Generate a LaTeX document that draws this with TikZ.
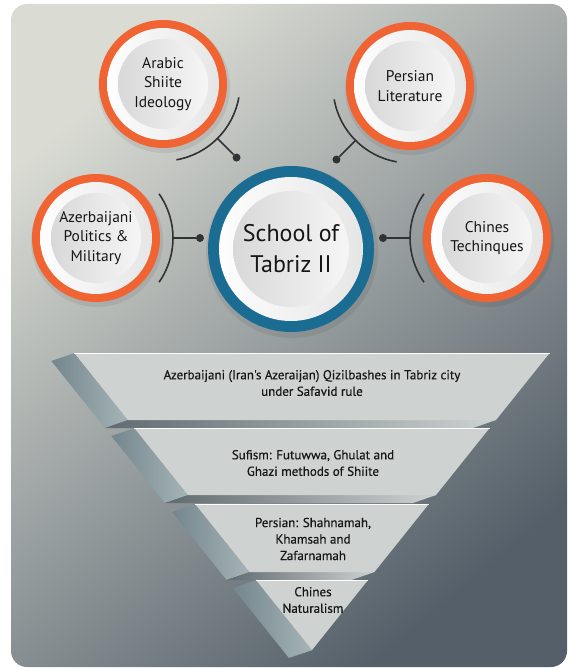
\documentclass[tikz,border=0pt]{standalone}
\usepackage{fontspec}
\setmainfont{PT Sans}
\newfontfamily\tierfont{PT Sans}[FakeBold=0.45]

\definecolor{ringorange}{RGB}{239,100,50}
\definecolor{hubblue}{RGB}{26,108,146}
\definecolor{pinline}{RGB}{48,50,52}
\definecolor{textdark}{RGB}{22,22,24}
\definecolor{bglight}{RGB}{218,220,212}
\definecolor{bgdark}{RGB}{84,95,105}
\definecolor{bandgrey}{RGB}{228,228,228}
\definecolor{discgrey}{RGB}{216,216,216}
\definecolor{discwhite}{RGB}{246,246,246}
\definecolor{facegrey}{RGB}{206,211,210}
\definecolor{facelight}{RGB}{232,234,232}
\definecolor{sidedark}{RGB}{116,134,142}
\definecolor{sidelight}{RGB}{166,180,183}
\definecolor{ledgedark}{RGB}{96,106,112}
\definecolor{ledgelight}{RGB}{205,210,210}

\tikzset{
    spoke/.style={circle, inner sep=0pt, minimum size=128pt, fill=ringorange,
        align=center, text=textdark, font=\fontsize{15.5}{19.5}\selectfont,
        path picture={
            \shade[left color=white, right color=bandgrey]
                (path picture bounding box.center) circle (56pt);
            \shade[left color=discgrey, right color=discwhite]
                (path picture bounding box.center) circle (45pt);
        }},
    hub/.style={circle, inner sep=0pt, minimum size=166pt, fill=hubblue,
        align=center, text=textdark, font=\fontsize{24}{31}\selectfont,
        path picture={
            \shade[left color=white, right color=bandgrey]
                (path picture bounding box.center) circle (72pt);
            \shade[left color=discgrey, right color=discwhite]
                (path picture bounding box.center) circle (58pt);
        }},
    halo/.style={fill=black, opacity=0.07},
    pin/.style={circle, fill=pinline, inner sep=0pt, minimum size=8pt},
    bracket/.style={draw=pinline, line width=1.6pt},
    tiertext/.style={align=center, text=textdark, font=\tierfont\fontsize{13}{16.5}\selectfont},
}

\begin{document}
\begin{tikzpicture}[x=1pt, y=-1pt]
    \useasboundingbox (0,0) rectangle (567,668);

    % Background panel
    \shade[rounded corners=16pt, top color=bglight, bottom color=bgdark, shading angle=40]
        (11,4) rectangle (567,667);

    % Soft shadows under the circles
    \foreach \x/\y/\r in {163/84/66, 410/86/66, 96/238/66, 487/238/66, 291/249/86} {
        \fill[halo] (\x+1,\y+3) circle (\r);
    }

    % Circles
    \node[spoke] (arabic) at (163,84) {Arabic\\Shiite\\Ideology};
    \node[spoke] (persian) at (410,86) {Persian\\Literature};
    \node[spoke] (azeri) at (96,238) {Azerbaijani\\Politics \&\\Military};
    \node[spoke] (chines) at (487,238) {Chines\\Techinques};
    \node[hub] (tabriz) at (291,249) {School of\\Tabriz II};

    % Brackets with pins
    \foreach \n/\a in {arabic/45, persian/135, azeri/0, chines/180} {
        \draw[bracket] ([shift={(\a-35:77)}]\n.center) arc[start angle=\a-35, end angle=\a+35, radius=77];
        \coordinate (\n-arc) at ([shift={(\a:77)}]\n.center);
        \node[pin] (\n-pin) at ([shift={(\a:104)}]\n.center) {};
        \draw[bracket] (\n-arc) -- (\n-pin);
    }

    % Inverted pyramid, one slab per tier
    \foreach \t/\b in {353/420, 428/495, 504/572, 580/650} {
        \shade[left color=sidedark, right color=sidelight]
            ({312-0.8*(650-\t)},\t) -- ({312-0.8*(650-\b)},\b) -- ++(-23,8)
            -- ({312-0.8*(650-\t)-23},\t+8) -- cycle;
        \shade[left color=ledgedark, right color=ledgelight]
            ({312-0.8*(650-\b)},\b) -- ({312+0.8*(650-\b)},\b) -- ++(-23,8)
            -- ({312-0.8*(650-\b)-23},\b+8) -- cycle;
        \shade[left color=facegrey, middle color=facelight, right color=facegrey]
            ({312-0.8*(650-\t)},\t) -- ({312+0.8*(650-\t)},\t)
            -- ({312+0.8*(650-\b)},\b) -- ({312-0.8*(650-\b)},\b) -- cycle;
        \draw[white, line width=0.8pt] ({312-0.8*(650-\t)},\t) -- ({312+0.8*(650-\t)},\t);
    }

    % Tier labels
    \node[tiertext] (tier1) at (312,383) {Azerbaijani (Iran's Azeraijan) Qizilbashes in Tabriz city\\under Safavid rule};
    \node[tiertext] (tier2) at (313,463) {Sufism: Futuwwa, Ghulat and\\Ghazi methods of Shiite};
    \node[tiertext] (tier3) at (313,539) {Persian: Shahnamah,\\Khamsah and\\Zafarnamah};
    \node[tiertext] (tier4) at (313,600) {Chines\\Naturalism};
\end{tikzpicture}
\end{document}
